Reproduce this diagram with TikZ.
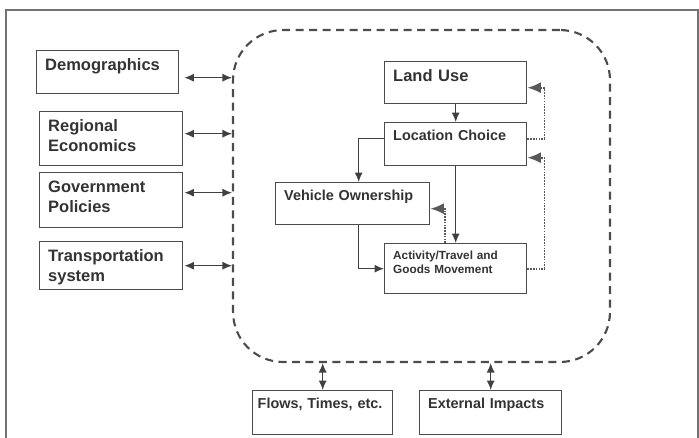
\documentclass[tikz,border=0pt]{standalone}
\usepackage{fontspec}
\setmainfont{Liberation Sans}
\usetikzlibrary{arrows.meta, calc}

\begin{document}
\begin{tikzpicture}[
    x=0.02cm, y=-0.02cm,
    box/.style 2 args={rectangle, draw=black!70, line width=0.8pt, anchor=north west, align=left, text width=#1, inner xsep=0.17cm, inner ysep=0.15cm, text height=0.24cm, text depth=#2, text=black!80, font=\bfseries\fontsize{9.4}{11.4}\selectfont},
    midbox/.style 2 args={box={#1}{#2}, text height=0.21cm, font=\bfseries\fontsize{8.2}{10}\selectfont},
    smallbox/.style 2 args={box={#1}{#2}, text height=0.17cm, font=\bfseries\fontsize{6.7}{8}\selectfont},
    model/.style={draw=black!70, dash pattern=on 0.16cm off 0.11cm, line width=1.2pt, rounded corners=1cm, inner sep=0},
    arrow/.style={->, >={Latex[length=0.19cm,width=0.16cm]}, line width=0.7pt, black!75},
    both/.style={<->, >={Latex[length=0.19cm,width=0.16cm]}, line width=0.7pt, black!75},
    feedback/.style={->, >={Latex[length=0.27cm,width=0.22cm]}, line width=1pt, dash pattern=on 0.9pt off 0.7pt, black!65}
]
\useasboundingbox (0,0) rectangle (699,437);

% page frame
\draw[black!55, line width=1.2pt] (6,445) |- (698,10) -- (698,445);

% model boundary
\node[model, minimum width=7.54cm, minimum height=6.64cm] (model) at (421.5,196) {};

% external inputs
\node[box={2.50cm}{0.32cm}] (demo) at (36,50) {Demographics};
\node[box={2.52cm}{0.54cm}] (econ) at (39,111) {Regional\\Economics};
\node[box={2.52cm}{0.56cm}] (policy) at (39,172) {Government\\Policies};
\node[box={2.52cm}{0.42cm}] (transp) at (39,241) {Transportation\\system};

% model components
\node[box={2.50cm}{0.30cm}] (land) at (384,61) {Land Use};
\node[midbox={2.50cm}{0.35cm}] (loc) at (384,122) {Location Choice};
\node[midbox={2.74cm}{0.33cm}] (veh) at (275,182) {Vehicle Ownership};
\node[smallbox={2.50cm}{0.53cm}] (act) at (384,243) {Activity/Travel and\\Goods Movement};

% outputs
\node[midbox={2.60cm}{0.37cm}, inner xsep=0.1cm] (flows) at (252,390) {Flows, Times, etc.};
\node[midbox={2.50cm}{0.37cm}] (ext) at (419,390) {External Impacts};

\foreach \n/\dx/\dy in {demo/5/5.5, econ/1/-5, policy/1/-7.5, transp/1/0}
  \draw[both] ($(\n.east)+(\dx,\dy)$) -- ($(\n.east -| model.west)+(0,\dy)$);

\draw[both] (model.south -| flows.north) -- (flows.north);
\draw[both] (model.south -| ext.north) -- (ext.north);

\draw[arrow] (land) -- (loc);
\draw[arrow] ($(loc.west)+(0,-5.5)$) -| ($(veh.north)+(6,0)$);
\draw[arrow] (loc) -- (act);
\draw[arrow] ($(veh.south)+(6,0)$) |- (act.west);

% feedback loops
\draw[feedback] ($(act.north)+(-11,0)$) |- ($(veh.east)+(0,5)$);
\draw[feedback] ($(loc.east)+(0,-5.5)$) -- ++(17,0) |- ($(land.east)+(0,5)$);
\draw[feedback] (act.east) -- ++(17,0) |- ($(loc.east)+(0,13.5)$);

\end{tikzpicture}
\end{document}
